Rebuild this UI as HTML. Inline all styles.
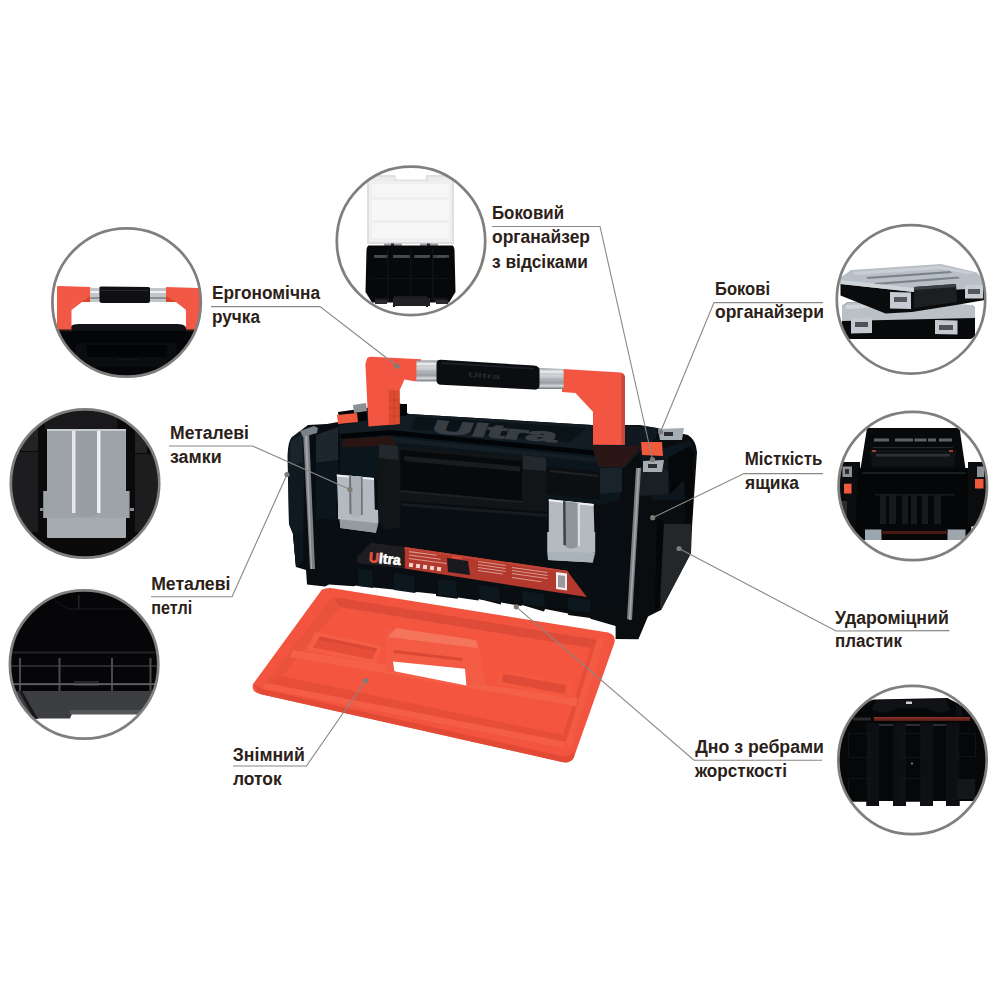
<!DOCTYPE html>
<html><head><meta charset="utf-8">
<style>
html,body{margin:0;padding:0;background:#fff;width:1000px;height:1000px;overflow:hidden}
svg{position:absolute;left:0;top:0}
text{font-family:"Liberation Sans",sans-serif;font-weight:bold;font-size:18px;fill:#2b2118}
</style></head><body>
<svg width="1000" height="1000" viewBox="0 0 1000 1000">
<defs>
<linearGradient id="tube" x1="0" y1="0" x2="0" y2="1">
  <stop offset="0" stop-color="#8c9094"/><stop offset="0.15" stop-color="#e9ecee"/><stop offset="0.45" stop-color="#c2c6ca"/>
  <stop offset="0.7" stop-color="#9a9ea2"/><stop offset="0.85" stop-color="#d8dbde"/><stop offset="1" stop-color="#6e7276"/>
</linearGradient>
<clipPath id="c1"><circle cx="126.6" cy="302.5" r="74.3"/></clipPath>
<clipPath id="c2"><circle cx="411" cy="240.9" r="74.3"/></clipPath>
<clipPath id="c3"><circle cx="911" cy="299.4" r="74.3"/></clipPath>
<clipPath id="c4"><circle cx="912.8" cy="486" r="74.3"/></clipPath>
<clipPath id="c5"><circle cx="912.5" cy="760" r="74.3"/></clipPath>
<clipPath id="c6"><circle cx="85" cy="483.5" r="74.3"/></clipPath>
<clipPath id="c7"><circle cx="84.1" cy="664.5" r="74.3"/></clipPath>
</defs>

<!-- ===== CIRCLE 1: handle ===== -->
<g clip-path="url(#c1)">
  <rect x="40" y="329" width="180" height="70" fill="#050609"/>
  <path d="M71 326 Q73 324 79 324 L177 324 Q183 324 185 326 L187 329 L69 329 Z" fill="#111318"/>
  <path d="M40 329 L220 329 L220 331 L40 331 Z" fill="#0e1014"/>
  <rect x="40" y="330" width="32" height="1.2" fill="#3a1a16"/><rect x="186" y="330" width="34" height="1.2" fill="#3a1a16"/>
  <path d="M76 343 L176 343 L178 367 L74 367 Z" fill="#0a0c10"/>
  <path d="M86 345 L168 345 L166 357 L88 357 Z" fill="#030407"/>
  <rect x="116" y="359" width="24" height="1.2" fill="#101420"/>
  <path d="M57 287 Q57 286 59 286 L90.4 287 L90.4 302 L82 302 L71.5 310 L71.5 329.5 L57 329.5 Z" fill="#f25846"/>
  <path d="M166 287 L198 288 Q200 288 200 290 L202 329.5 L186 329.5 L186 310 L176 302 L166 302 Z" fill="#f25846"/>
  <path d="M82 302 L90 296 L90 302 Z" fill="#d94526"/>
  <path d="M176 302 L166 296 L166 302 Z" fill="#d94526"/>
  <rect x="90.4" y="288" width="9" height="14" fill="#c3c6c9"/>
  <rect x="90.4" y="291" width="9" height="2" fill="#eef0f2"/>
  <rect x="90.4" y="297" width="9" height="2" fill="#8e9194"/>
  <rect x="149.8" y="288" width="16.2" height="14" fill="#c3c6c9"/>
  <rect x="149.8" y="291" width="16.2" height="2" fill="#eef0f2"/>
  <rect x="149.8" y="297" width="16.2" height="2" fill="#8e9194"/>
  <path d="M99.4 288 Q99 286 102 286.5 L148 287 Q150.5 287 150 289 L150 301 Q150 303 148 303 L102 303 Q99.4 303 99.4 301 Z" fill="#101014"/>
  <path d="M101 290 L148 290 L148 291 L101 291 Z" fill="#2a2a30"/>
</g>
<circle cx="126.6" cy="302.5" r="74.2" fill="none" stroke="#807f7d" stroke-width="2.7"/>

<!-- ===== CIRCLE 2: organizer open ===== -->
<g clip-path="url(#c2)">
  <path d="M367 175 L395.6 175 L395.6 179.5 L426 179.5 L426 175 L454 175 L454 244 L367 244 Z" fill="#dedfe0"/>
  <rect x="369" y="177" width="25" height="4" fill="#ececed"/><rect x="428" y="177" width="24" height="4" fill="#ececed"/>
  <path d="M369 181 L452 181 L452 242 L369 242 Z" fill="#efeff0"/>
  <path d="M372 184 L449 184 L449 197 L372 197 Z" fill="#f6f6f7"/>
  <path d="M372 200 L449 200 L449 220 L372 220 Z" fill="#f7f7f8"/>
  <path d="M372 223 L449 223 L449 238 L372 238 Z" fill="#f6f6f7"/>
  <rect x="384" y="243.5" width="18" height="2.5" fill="#9a9da0"/><rect x="391" y="243.5" width="3" height="2.5" fill="#2a2c2e"/>
  <rect x="420" y="243.5" width="18" height="2.5" fill="#9a9da0"/><rect x="427" y="243.5" width="3" height="2.5" fill="#2a2c2e"/>
  <path d="M368.5 245.5 L452.5 245.5 Q454 246 454.5 250 L455.5 292 L449 302.5 L372 302.5 L365.5 292 L366.5 250 Q367 246 368.5 245.5 Z" fill="#07080a"/>
  <g fill="#0f1114">
    <rect x="387" y="249" width="1.5" height="50"/><rect x="410" y="249" width="1.5" height="50"/><rect x="432" y="249" width="1.5" height="50"/>
    <rect x="370" y="278" width="82" height="1.2"/>
  </g>
  <g fill="#3a4046">
    <path d="M374 255 L388 255 L387 258 L375 258 Z"/><path d="M393 255 L410 255 L410 258 L393 258 Z"/>
    <path d="M414 255 L429 255 L429 258 L414 258 Z"/><path d="M433 255 L448 255 L446 258 L433 258 Z"/>
  </g>
  <rect x="394" y="296" width="33" height="8" fill="#1a1c1f"/>
  <rect x="375" y="298" width="14" height="4" fill="#151719"/>
  <rect x="433" y="298" width="14" height="4" fill="#151719"/>
  <rect x="393" y="302" width="2" height="5" fill="#0a0b0d"/><rect x="426" y="302" width="2" height="5" fill="#0a0b0d"/>
</g>
  <g fill="#4a4a4e">
    <rect x="374" y="255" width="11" height="2.5"/><rect x="393" y="255" width="15" height="2.5"/>
    <rect x="415" y="255" width="15" height="2.5"/><rect x="437" y="255" width="12" height="2.5"/>
  </g>
  <path d="M393 298 L430 298 L430 306 L393 306 Z" fill="#222226"/>
  <rect x="375" y="300" width="12" height="4" fill="#2a2a2e"/>
  <rect x="436" y="300" width="12" height="4" fill="#2a2a2e"/>
</g>
<circle cx="411" cy="240.9" r="74.2" fill="none" stroke="#807f7d" stroke-width="2.7"/>

<!-- ===== CIRCLE 3: organizers stacked ===== -->
<g clip-path="url(#c3)">
  <!-- bottom organizer -->
  <path d="M842 306 L847 302.5 L972 305 L975 308 L975 336 L971 339 L842 339 Z" fill="#08090b"/>
  <path d="M842 306 L847 302.5 L972 305 L975 308 L975 318 L842 321 Z" fill="#b9c0c6"/>
  <path d="M846 305 L880 304 L880 307 L846 309 Z" fill="#d0d5da"/>
  <path d="M851 318 L872 317.5 L872 333 L851 333.5 Z" fill="#c3c9ce"/>
  <rect x="855" y="322" width="13" height="5" fill="#4e5256"/>
  <path d="M935 320 L957.5 320.5 L957.5 334.5 L935 334 Z" fill="#c3c9ce"/>
  <rect x="939" y="325" width="14" height="5" fill="#4e5256"/>
  <!-- top organizer body -->
  <path d="M840.5 280 L914 288 L985 284 L985 300 L956 305 L912 312 L885.5 313.5 L840.5 295.5 Z" fill="#0a0b0d"/>
  <!-- top organizer lid -->
  <path d="M840.5 277.5 L851 270 L941 264 L977 272.5 L985 282 L985 288 L914 292 L840.5 284 Z" fill="#b8bfc6"/>
  <path d="M852 272 L940 266 L975 273 L968 274 L940 269 L856 275 Z" fill="#c9cfd5"/>
  <path d="M866 277 L950 271 L952 273 L868 279 Z" fill="#7c848b"/>
  <path d="M874 283 L958 276.5 L960 278.5 L876 285 Z" fill="#7c848b"/>
  <path d="M840.5 280 L914 288 L914 292 L840.5 284 Z" fill="#cfd4d9"/>
  <!-- front handle -->
  <path d="M914 287 L956 284 L957 302 L914 308 Z" fill="#1c1f22"/>
  <path d="M914 287 L956 284 L956 287 L914 290 Z" fill="#3c4044"/>
  <!-- clips -->
  <path d="M890 292 L911 292.5 L911 309 L890 308.5 Z" fill="#c6ccd1"/>
  <rect x="894" y="297" width="13" height="5" fill="#54585c"/>
  <path d="M965 285 L983 284.5 L983 298.5 L965 298.5 Z" fill="#c6ccd1"/>
  <rect x="968" y="289" width="12" height="5" fill="#54585c"/>
</g>
<circle cx="911" cy="299.4" r="74.2" fill="none" stroke="#807f7d" stroke-width="2.7"/>

<!-- ===== CIRCLE 4: open toolbox ===== -->
<g clip-path="url(#c4)">
  <path d="M867 428 L959.5 428 L966 472 L860 472 Z" fill="#08090b"/>
  <g fill="#5e6368">
    <rect x="874" y="438.5" width="15" height="3"/><rect x="895" y="438.5" width="18" height="3"/>
    <rect x="914.5" y="438.5" width="12" height="3"/><rect x="928" y="438.5" width="8" height="3"/>
    <rect x="939" y="438.5" width="13" height="3"/>
  </g>
  <rect x="873" y="447" width="80" height="1.2" fill="#25282c"/>
  <path d="M869.5 450 L956.5 450 L953 466.5 L873 466.5 Z" fill="#111316"/>
  <path d="M876 454 L950 454 L950 456.5 L876 456.5 Z" fill="#2e3236"/>
  <path d="M872 450 L876 450 L876 452 L872 452 Z" fill="#a0402c"/>
  <path d="M949 450 L953 450 L953 452 L949 452 Z" fill="#a0402c"/>
  <path d="M834 462 L860 462 L862 545 L834 545 Z" fill="#0b0c0e"/>
  <path d="M858 468 L968 468 L972 540 L855 540 Z" fill="#050608"/>
  <path d="M862 472 L966 472 L966 474 L862 474 Z" fill="#1a1d20"/>
  <rect x="875" y="494.5" width="80" height="0.8" fill="#2a2e32"/>
  <g fill="#17191c">
    <rect x="880" y="495" width="6" height="30"/><rect x="889" y="495" width="7" height="30"/>
    <rect x="902" y="495" width="6" height="30"/><rect x="911" y="495" width="6" height="30"/>
    <rect x="922" y="495" width="6" height="30"/><rect x="934" y="495" width="7" height="30"/>
  </g>
  <path d="M968 462 L992 462 L992 524 L968 527 Z" fill="#0b0c0e"/>
  <rect x="842.5" y="466.5" width="9.5" height="10.5" fill="#8d9297"/>
  <rect x="845" y="469" width="4" height="5" fill="#2a2d30"/>
  <rect x="844" y="483.7" width="7.5" height="9.8" fill="#ef5a3f"/>
  <rect x="841" y="501" width="6" height="24" fill="#2a2d30"/>
  <rect x="975" y="479" width="8.5" height="9.5" fill="#ef5a3f"/>
  <rect x="977" y="466.5" width="7" height="10.5" fill="#8d9297"/>
  <rect x="861" y="524" width="104" height="16" fill="#060709"/>
  <rect x="865" y="529.5" width="16.5" height="10.5" fill="#9ca6ae"/>
  <rect x="947.5" y="529.5" width="18" height="10.5" fill="#9ca6ae"/>
  <rect x="881.5" y="531" width="66" height="3" fill="#4a1812"/>
</g>
<circle cx="912.8" cy="486" r="74.2" fill="none" stroke="#807f7d" stroke-width="2.7"/>

<!-- ===== CIRCLE 5: bottom ribs ===== -->
<g clip-path="url(#c5)">
  <path d="M830 712 L853 706 L874 699.5 L947.5 698 L958 703.5 L966 709.5 L1000 714 L1000 801 L959.5 801 L959.5 806 L946 806 L946 801 L933 801 L933 806 L920 806 L920 801 L906 801 L906 806 L893 806 L893 801 L879 801 L879 806 L866.5 806 L866.5 801 L830 801 Z" fill="#060709"/>
  <path d="M876 700 L946 699 L950 710 L940 713 L924 708 L900 708 L884 713 L872 710 Z" fill="#101215"/>
  <rect x="906" y="701.5" width="6" height="2.5" fill="#d0d0d0"/>
  <rect x="956" y="706" width="6" height="10" fill="#0e1013"/>
  <rect x="874" y="717" width="96" height="3.8" fill="#6a241c"/>
  <rect x="874" y="717" width="96" height="1.4" fill="#8a3428"/>
  <rect x="853" y="717.5" width="18" height="3" fill="#2a2a2e"/>
  <g fill="#0d0f12">
    <rect x="866.5" y="723" width="12.5" height="83"/><rect x="893" y="723" width="13" height="83"/>
    <rect x="920" y="723" width="13" height="83"/><rect x="946" y="723" width="13.5" height="83"/>
  </g>
  <g fill="#2a2e32">
    <rect x="879" y="724" width="14" height="2"/><rect x="906" y="724" width="14" height="2"/>
    <rect x="933" y="724" width="13" height="2"/>
  </g>
  <g fill="none" stroke="#15181b" stroke-width="0.8">
    <rect x="848.5" y="733.5" width="21" height="24"/><rect x="902.5" y="733.5" width="21" height="24"/>
    <rect x="956.5" y="733.5" width="19" height="23"/><rect x="848.5" y="778.5" width="21" height="23"/>
    <rect x="902.5" y="778.5" width="21" height="23"/>
  </g>
  <rect x="957" y="779" width="18" height="20" fill="#14171a"/>
  <circle cx="912" cy="763.5" r="0.9" fill="#9a9a9a"/>
</g>
<circle cx="912.5" cy="760" r="74.2" fill="none" stroke="#807f7d" stroke-width="2.7"/>

<!-- ===== CIRCLE 6: latch ===== -->
<g clip-path="url(#c6)">
  <rect x="0" y="400" width="170" height="170" fill="#0a0a0b"/>
  <rect x="12" y="452" width="26" height="80" fill="#1d1d20"/>
  <rect x="21" y="429" width="17" height="22" fill="#242427"/>
  <rect x="45" y="411" width="72" height="18" fill="#19191c"/>
  <rect x="135" y="454" width="22" height="78" fill="#1d1d20"/>
  <rect x="135" y="429" width="12" height="24" fill="#242427"/>
  <path d="M47 429 L126 429 L126 491 L129.6 491 L129.6 518 L126 518 L126 536 Q126 538 124 538 L49 538 Q47 538 47 536 L47 518 L43.2 518 L43.2 491 L47 491 Z" fill="#9ea3a8"/>
  <rect x="47" y="518" width="79" height="20" rx="1.5" fill="#a6abb0"/>
  <path d="M72 429 L100 429 L100 512 Q86 522 72 512 Z" fill="#989da2"/>
  <rect x="72" y="429" width="3.5" height="84" fill="#e6e8ea"/>
  <rect x="97" y="429" width="3.5" height="84" fill="#eef0f2"/>
  <rect x="47" y="429" width="79" height="2" fill="#c8ccd0"/>
  <rect x="40" y="508" width="4" height="3" fill="#8a8d90"/>
  <rect x="130" y="508" width="4" height="3" fill="#8a8d90"/>
</g>
<circle cx="85" cy="483.5" r="74.2" fill="none" stroke="#807f7d" stroke-width="2.7"/>

<!-- ===== CIRCLE 7: hinges ===== -->
<g clip-path="url(#c7)">
  <rect x="0" y="580" width="170" height="112" fill="#060608"/>
  <path d="M53 598 Q60 606 68 609 L160 609" stroke="#1a1a1e" stroke-width="1" fill="none"/>
  <rect x="78" y="595" width="1.5" height="14" fill="#222226"/>
  <rect x="0" y="651.5" width="170" height="2" fill="#222226"/>
  <rect x="0" y="665" width="170" height="2" fill="#2a2a2e"/>
  <rect x="0" y="683" width="170" height="2" fill="#3c3c40"/>
  <g fill="#4a4a4e">
    <rect x="19" y="658" width="2" height="33"/><rect x="58.5" y="658" width="2" height="33"/>
    <rect x="111" y="658" width="2" height="33"/><rect x="149.5" y="658" width="2" height="33"/>
  </g>
  <rect x="74" y="681" width="25" height="5" fill="#26262a"/>
  <path d="M0 691 L170 691 L170 714 L72 714 L70 718.5 L0 718.5 Z" fill="#3c3e41"/>
  <path d="M70 710 L170 710 L170 714.5 L70 714.5 Z" fill="#55585b"/>
  <path d="M19 691 L22 691 L38 719 L34 719 Z" fill="#151618"/>
  <rect x="0" y="683.5" width="170" height="1.6" fill="#5e6468"/>
</g>
<circle cx="84.1" cy="664.5" r="74.2" fill="none" stroke="#807f7d" stroke-width="2.7"/>

<!-- ===== TOOLBOX ===== -->
<g id="box">
  <!-- base silhouette -->
  <path d="M287.5 456 Q288 441 292 437 L308 425 L327 424 L339.6 421.7 L352 412 L366 408 L400 403 L407 413 L409 414 L592 425 L640 425 L657 428 L688 435 Q696 440 697 452 L692 527 L691 553 L661 610 L648 616.4 L638.4 639.2 L615.6 639 L615.6 626 L590.4 618.8 L590.4 618 L568.2 615 L568.2 613.4 L545 609 L544 611.6 L522 605 L521.6 606 L501 602.5 L500.8 604.4 L479 599 L478.4 600.4 L458 597.5 L457.6 598.8 L436 596 L436 593.2 L418 591 L416 592.4 L399 589 L397 589.6 L377 586.5 L375 587.3 L356 585 L354 586.2 L329 584.5 L325 586.4 L307 584.5 L306 570 L296 567 L293 534 L289 524 Z" fill="#090d10"/>
  <!-- left end-cap side face -->
  <path d="M288 456 Q289 441 292 437 L303 431 L304 470 L303 560 L296 567 L293 534 L289 524 Z" fill="#0f1a20"/>
  <path d="M291 441 L302 434 L303 462 L290 466 Z" fill="#1a242a"/>
  <path d="M293 534 L303 530 L303 560 L296 567 Z" fill="#0c161c"/>
  <!-- left end-cap front panel -->
  <path d="M316 435 L338 427 L338 460 L316 463 Z" fill="#1c262c"/>
  <path d="M316 463 L338 460 L338 474 L336 520 L320 519 L316 519 Z" fill="#0b161c"/>
  <!-- lid top surface -->
  <path d="M338 424 L366 413 L400 412 L409 414 L592 425 L640 427 L625 447 L606 452 L388 431 L340 436 Z" fill="#121c22"/>
  <path d="M416 417 L586 428 L570 442 L411 429 Z" fill="#0a1318"/>
  <text x="0" y="0" transform="translate(431 432.5) rotate(4.5) skewX(-18)" style="font-size:18px;fill:#363d43;stroke:#363d43;stroke-width:1.3;font-weight:bold" textLength="124" lengthAdjust="spacingAndGlyphs">Ultra</text>
  <!-- lid rail strap -->
  <path d="M340 434 L390 430 L610 452 L611 457 L390 435 L342 439 Z" fill="#020507"/>
  <!-- lid front face -->
  <path d="M340 439 L390 435 L611 457 L622 470 L620 500 L600 505 L535 500 L340 474 Z" fill="#0b161c"/>
  <path d="M342 441 L390 437 L606 459 L606 463 L390 442 L342 446 Z" fill="#141e24"/>
  <path d="M345 439 L390 436 L398 446 L341 447 Z" fill="#2a1513"/>
  <!-- lid front recess frames -->
  <path d="M378 444 L546 459 L547 512 L522 510 L400.5 501 L400.5 528 L384 530 L378 520 Z" fill="#111518"/>
  <path d="M379 444 L398 446 L398 460 L379 458 Z" fill="#23282c"/>
  <path d="M523 455 L546 458 L546 471 L523 469 Z" fill="#23282c"/>
  <path d="M400.5 450 L522 461 L522 501 L400.5 490 Z" fill="#07090b"/>
  <path d="M404 456 L520 466.5 L520 471.5 L404 461 Z" fill="#181c20"/>
  <path d="M400.5 490 L522 501 L522 503 L400.5 492 Z" fill="#1c2024"/>
  <path d="M546 466 L600 472 L600 500 L546 494 Z" fill="#0c0f12"/>
  <path d="M550 470 L598 475 L598 477 L550 472 Z" fill="#1d2226"/>
  <!-- lower body front -->
  <path d="M320 519 L336 520 L340 530 L384 531 L400.5 528 L402 503 L522 512 L547 514 L547 560 L600 566 L603 508 L622 502 L630 580 L614 614 L520 604 L436 594 L331 583 L318 580 Z" fill="#090e12"/>
  <path d="M402 503 L547 514 L547 517 L402 506 Z" fill="#161b1f"/>
  <!-- lower front ribs -->
  <g fill="#0d181e">
    <path d="M358 569 L372 570 L373 588 L358 586 Z"/>
    <path d="M394 573 L414 576 L415 593 L394 590 Z"/>
    <path d="M438 579 L456 581 L457 597 L438 595 Z"/>
    <path d="M479 585 L499 588 L500 602 L480 599 Z"/>
    <path d="M522 591 L544 594 L545 607 L523 604 Z"/>
    <path d="M567 597 L590 600 L590 613 L568 610 Z"/>
  </g>
  <!-- right end-cap -->
  <path d="M600 468 L622 468 L622 492 L600 494 Z" fill="#19232a"/>
  <path d="M622 425 L657 428 L656 438 L640 452 L624 468 L604 468 L606 452 Z" fill="#0f191f"/>
  <path d="M592 446 L641 446 L624 467 L598 467 Z" fill="#2a1614"/>
  <path d="M640 456 L690 440 L695 452 L692 500 L652 500 L648 470 Z" fill="#0c161c"/>
  <path d="M640 467 L662 466 L668 472 L668 494 L640 496 Z" fill="#1a1f23"/>
  <path d="M668 458 L690 446 L694 452 L692 520 L686 523 L684 480 L670 494 Z" fill="#050708"/>
  <!-- right side panel (textured plastic) -->
  <path d="M662 524 L691 524 L691 553 L661 610 L659 600 L660 560 Z" fill="#23272a"/>
  <path d="M657 518 L664 522 L662 560 L660 606 L655 612 L656 560 Z" fill="#040607"/>
  <!-- grey hinge strips -->
  <path d="M303 432 L309 431 L315 569 L310 569 Z" fill="#7c8084"/>
  <path d="M305 432 L307 432 L312 569 L311 569 Z" fill="#a4a8ac"/>
  <path d="M636 468 L641 468 L632 620 L627 619 Z" fill="#7c8084"/>
  <path d="M638 468 L639.5 468 L630.5 620 L629 620 Z" fill="#a4a8ac"/>
  <!-- organizer latches top -->
  <path d="M338 412 L366 408 L367 420 L340 425 Z" fill="#020507"/>
  <path d="M337 415 L357 413 L358 422 L338 424 Z" fill="#ef5a3f"/>
  <path d="M353 405 L366 403 L367 411 L354 413 Z" fill="#8a9094"/>
  <path d="M300 431 L314 426 L318 428 L317 433 L303 437 Z" fill="#7a8186"/>
  <path d="M641 442 L662 442 L663 456 L642 455 Z" fill="#ef5a3f"/>
  <path d="M643 461 L664 460 L662 472 L643 472 Z" fill="#a5acb2"/>
  <rect x="648" y="464" width="9" height="4" fill="#2a2e32"/>
  <path d="M658 429 L684 428 L682 440 L660 440 Z" fill="#a5acb2"/>
  <rect x="664" y="432" width="9" height="4" fill="#2a2e32"/>
  <!-- handle -->
  <path d="M400 404 L407 404 L407 416 L400 416 Z" fill="#020507"/>
  <path d="M366.6 360 Q367 356.8 371 356.8 L421.2 359.2 L416.4 381.4 L404.4 379.6 L399.6 390.4 L399.6 424 L368.4 426.4 L365.4 364 Z" fill="#f25642"/>
  <path d="M388.8 390 L399.6 390.4 L399.6 424 L388.8 425 Z" fill="#dc4a30"/>
  <g stroke="#c44028" stroke-width="0.8"><line x1="394" y1="391" x2="394" y2="424"/><line x1="389" y1="400" x2="399.6" y2="400"/><line x1="389" y1="408" x2="399.6" y2="408"/><line x1="389" y1="416" x2="399.6" y2="416"/></g>
  <path d="M562.8 369 L621 372.6 Q625 373.5 625 378 L625 445 L593 444.7 L593 411.8 L575.4 393 L562 392 Z" fill="#f25642"/>
  <path d="M621.5 374 Q625 374.5 625 378 L625 445 L621.5 445 Z" fill="#c84a3e"/>
  <!-- tubes -->
  <path d="M416.4 360.4 L438.6 360.4 L438.6 381.4 L416.4 381.4 Z" fill="url(#tube)"/>
  <path d="M537.5 368 L563.6 369 L563.6 389 L537.5 389 Z" fill="url(#tube)"/>
  <g stroke="#8a8e92" stroke-width="0.5" opacity="0.6">
    <line x1="416.4" y1="366" x2="438.6" y2="366"/><line x1="416.4" y1="371" x2="438.6" y2="371"/><line x1="416.4" y1="376" x2="438.6" y2="376"/>
    <line x1="537.5" y1="374" x2="563.6" y2="374"/><line x1="537.5" y1="379" x2="563.6" y2="379"/><line x1="537.5" y1="384" x2="563.6" y2="384"/>
  </g>
  <!-- grip -->
  <path d="M441 359.8 L534 365.5 Q539.5 366 539.5 370 L539.5 385.5 Q539.5 390 534 389.6 L441 384.8 Q436.5 384.5 436.5 380 L436.5 364 Q436.5 359.6 441 359.8 Z" fill="#0b0d10"/>
  <path d="M442 362 L534 367.8 L534 369.5 L442 364 Z" fill="#1c2024"/>
  <text x="0" y="0" transform="translate(468 377) rotate(3.3)" style="font-size:7px;fill:#262a2e" textLength="32" lengthAdjust="spacingAndGlyphs">Ultra</text>
  <!-- latches -->
  <path d="M336.8 474.4 L374 478 L374.8 509.6 L378 510 L378.4 523.2 L376.4 523.2 L376 532.8 L340.4 528 L339.6 519.2 L338 519 L338 505.6 Z" fill="#b3bac0"/>
  <path d="M336.8 474.4 L374 478 L374 480 L336.8 476.5 Z" fill="#eef1f3"/>
  <path d="M339.6 519.2 L378.4 523.2 L376 532.8 L340.4 528 Z" fill="#949aa0"/>
  <path d="M349 475.5 L362.5 476.8 L362.5 514 Q356 521 349.5 514 Z" fill="#a9b0b6"/>
  <path d="M349 475.5 L351 475.7 L351.5 514 L349.5 514 Z" fill="#6c737a"/>
  <path d="M361 476.7 L362.5 476.8 L362.8 515 L361 515 Z" fill="#6c737a"/>
  <path d="M548.8 499.2 L593.6 504 L594.4 532 L595.2 532 L595.2 552.8 L592.8 552.8 L592.8 562.4 L548 560 L548 552 L547.2 552 L547.2 532 L548.8 532 Z" fill="#b3bac0"/>
  <path d="M548.8 499.2 L593.6 504 L593.6 506 L548.8 501.2 Z" fill="#eef1f3"/>
  <path d="M547.2 552 L595.2 552.8 L592.8 562.4 L548 560 Z" fill="#a9b2b9"/>
  <path d="M563 501 L579.5 503 L579.8 545 Q571 552 563.5 545 Z" fill="#8d959b"/>
  <path d="M563 501 L565.5 501.3 L566 545 L563.5 545 Z" fill="#3e4449"/>
  <path d="M577.6 502.8 L580 503 L580 546 L577.8 546 Z" fill="#d8dee2"/>
  <!-- label -->
  <path d="M371 542.7 L404 547 L404 568.6 L357 563 L357 557 Z" fill="#1e1e22"/>
  <text x="0" y="0" transform="translate(368.5 562) rotate(5.5)" style="font-size:14px;font-weight:bold;fill:#ffffff;stroke:#ffffff;stroke-width:0.7" textLength="32" lengthAdjust="spacingAndGlyphs"><tspan fill="#e8503a" stroke="#e8503a">U</tspan>ltra</text>
  <path d="M404.6 547 L567 570.7 L586.8 597 L404.6 568.5 Z" fill="#b3392e"/>
  <path d="M404.6 547 L567 570.7 L569 573 L404.6 549.5 Z" fill="#c04436"/>
  <g fill="#f4d8d0">
    <rect x="409" y="563" width="4" height="4" transform="rotate(7 411 565)"/>
    <rect x="416" y="564" width="4" height="4" transform="rotate(7 418 566)"/>
    <rect x="423" y="565" width="4" height="4" transform="rotate(7 425 567)"/>
    <rect x="430" y="566" width="4" height="4" transform="rotate(7 432 568)"/>
    <rect x="437" y="567" width="4" height="4" transform="rotate(7 439 569)"/>
  </g>
  <g fill="#d99a90">
    <rect x="409" y="551" width="28" height="1.2" transform="rotate(7.5 409 551)"/>
    <rect x="409" y="554.5" width="32" height="1" transform="rotate(7.5 409 554.5)"/>
    <rect x="409" y="558" width="38" height="1.1" transform="rotate(7.5 409 558)"/>
    <rect x="478" y="561" width="28" height="1" transform="rotate(8 478 561)"/>
    <rect x="478" y="564" width="28" height="1" transform="rotate(8 478 564)"/>
    <rect x="478" y="567" width="28" height="1" transform="rotate(8 478 567)"/>
    <rect x="478" y="570" width="25" height="1" transform="rotate(8 478 570)"/>
    <rect x="512" y="567" width="36" height="1" transform="rotate(8 512 567)"/>
    <rect x="512" y="570" width="36" height="1" transform="rotate(8 512 570)"/>
    <rect x="512" y="573" width="36" height="1" transform="rotate(8 512 573)"/>
    <rect x="512" y="577" width="30" height="1" transform="rotate(8 512 577)"/>
  </g>
  <path d="M447 558 L468 561 L470 575 L448 572 Z" fill="#1a1a1e"/>
  <path d="M452 556 L462 557.5 L462 559 L452 558 Z" fill="#e8503a"/>
  <path d="M556 572 L567 573.5 L567 590.5 L556 589 Z" fill="#f0f0f0"/>
  <path d="M558 575 L565 576 L565 588 L558 587 Z" fill="#9a9a9a"/>
</g>

<!-- ===== TRAY ===== -->
<g id="tray">
  <!-- outer body -->
  <path d="M322 589.5 Q328 587 334 588.5 L608 632.5 Q617 635 614 644 L574 757 Q571 764 562 762 L260 694 Q251 692 253 684 L318 595 Z" fill="#f3543f"/>
  <!-- bottom lip shade -->
  <path d="M253 684 L260 694 L562 762 Q571 764 574 757 L575 752 L566 757 L262 689 Z" fill="#e34a36"/>
  <!-- inner cavity (walls shade) -->
  <path d="M333 597 L597 640 L566 742 L266 683 Z" fill="#e74e3a"/>
  <!-- cavity floor -->
  <path d="M340 606 L591 646 L563 735 L281 676 Z" fill="#f3553f"/>
  <!-- top back wall shade -->
  <path d="M333 597 L597 640 L591 648 L340 607 Z" fill="#de4b38"/>
  <!-- left wall shade -->
  <path d="M333 597 L340 607 L281 676 L266 683 Z" fill="#e9523d"/>
  <!-- left back compartment -->
  <path d="M315 632 L382 646 L376 663.5 L306 650.5 Z" fill="#f55e46"/>
  <path d="M320 636.5 L377 648.5 L372.5 659.5 L313 647.5 Z" fill="#e64e3a"/>
  <path d="M320 636.5 L377 648.5 L376 651 L318 639.5 Z" fill="#d84834"/>
  <!-- divider ridge -->
  <path d="M293 650 L386 665 L394 672 L466 685 L486 685 L578 698 L576 706 L290 657 Z" fill="#f56048"/>
  <!-- right back compartment -->
  <path d="M498 670 L572 682 L571 699 L497 684 Z" fill="#f4583f"/>
  <path d="M503 674 L566 685 L565 694 L502 682 Z" fill="#e04b37"/>
  <!-- handle -->
  <path d="M386 629 L478 641 L486 685 L466 685 L466 668 L394 662 L394 672 L386 672 Z" fill="#f35b44"/>
  <path d="M396 628 L476 640 L478 648 L388 637 Z" fill="#f5745c"/>
  <path d="M393 661.6 L465 668.8 L466.4 685.6 L394.4 671.2 Z" fill="#ffffff"/>
  <path d="M394 650 L462 658 L463 661 L394 653 Z" fill="#d94834"/>
  <!-- front rim highlight -->
  <path d="M266 683 L566 742 L563 748 L262 688 Z" fill="#f55e46"/>
  <path d="M597 640 L605 638 L570 750 L566 742 Z" fill="#f45b43"/>
</g>

<!-- ===== LEADER LINES ===== -->
<g stroke="#8a8784" stroke-width="1.1" fill="none">
  <polyline points="211,306.6 320,306.6 397,366"/>
  <polyline points="492,226.5 600,226.5 652.5,459.5"/>
  <polyline points="823,302.6 714,302.6 660.5,432"/>
  <polyline points="169,446 252.4,446 350,489.5"/>
  <polyline points="151,596.8 232,596.8 287,474.5"/>
  <polyline points="233,766 306.4,766 365.5,680.7"/>
  <polyline points="823,473.6 744,473.6 652.7,517.7"/>
  <polyline points="949.5,630.6 836,631 679,548.5"/>
  <polyline points="822,760.2 694,760.2 516.3,606.8"/>
</g>
<g fill="#7f7b76">
  <circle cx="397" cy="366" r="2.6"/>
  <circle cx="652.5" cy="459.5" r="2.6"/>
  <circle cx="660.5" cy="432" r="2.6"/>
  <circle cx="350" cy="489.5" r="2.6"/>
  <circle cx="287" cy="474.5" r="2.6"/>
  <circle cx="365.5" cy="680.7" r="2.6"/>
  <circle cx="652.7" cy="517.7" r="2.6"/>
  <circle cx="679" cy="548.5" r="2.6"/>
  <circle cx="516.3" cy="606.8" r="2.6"/>
</g>

<!-- ===== TEXT ===== -->
<text x="212" y="299" textLength="108" lengthAdjust="spacingAndGlyphs">Ергономічна</text>
<text x="212" y="323" textLength="48" lengthAdjust="spacingAndGlyphs">ручка</text>
<text x="492" y="218.8" textLength="72" lengthAdjust="spacingAndGlyphs">Боковий</text>
<text x="492" y="242.8" textLength="98" lengthAdjust="spacingAndGlyphs">органайзер</text>
<text x="492" y="267.6" textLength="96" lengthAdjust="spacingAndGlyphs">з відсіками</text>
<text x="715" y="295.2" textLength="55" lengthAdjust="spacingAndGlyphs">Бокові</text>
<text x="715" y="318.3" textLength="109" lengthAdjust="spacingAndGlyphs">органайзери</text>
<text x="170" y="439.4" textLength="79" lengthAdjust="spacingAndGlyphs">Металеві</text>
<text x="170" y="463.2" textLength="51.6" lengthAdjust="spacingAndGlyphs">замки</text>
<text x="151.2" y="590" textLength="79.2" lengthAdjust="spacingAndGlyphs">Металеві</text>
<text x="151.2" y="613.6" textLength="41" lengthAdjust="spacingAndGlyphs">петлі</text>
<text x="232.8" y="760.8" textLength="72" lengthAdjust="spacingAndGlyphs">Знімний</text>
<text x="233" y="784.8" textLength="48.6" lengthAdjust="spacingAndGlyphs">лоток</text>
<text x="744.8" y="465.3" textLength="77.6" lengthAdjust="spacingAndGlyphs">Місткість</text>
<text x="745" y="488.8" textLength="54" lengthAdjust="spacingAndGlyphs">ящика</text>
<text x="835" y="623.6" textLength="113.8" lengthAdjust="spacingAndGlyphs">Удароміцний</text>
<text x="835" y="647.4" textLength="67" lengthAdjust="spacingAndGlyphs">пластик</text>
<text x="695.2" y="753" textLength="128.8" lengthAdjust="spacingAndGlyphs">Дно з ребрами</text>
<text x="695" y="776.6" textLength="92" lengthAdjust="spacingAndGlyphs">жорсткості</text>
</svg>
</body></html>
